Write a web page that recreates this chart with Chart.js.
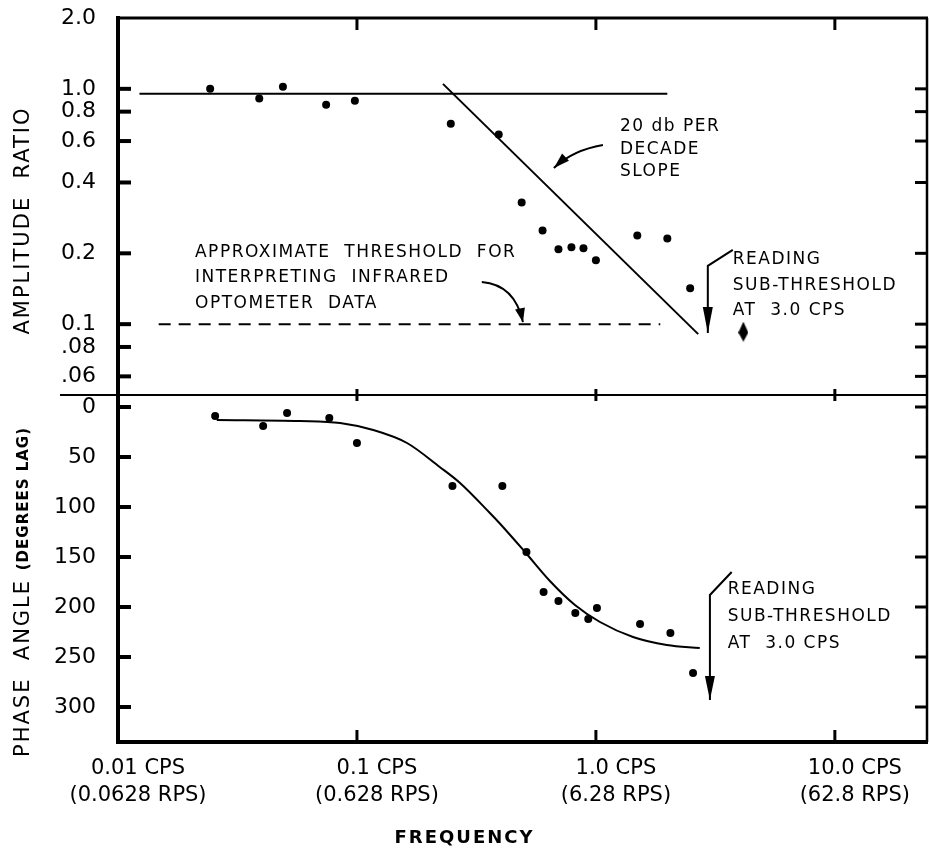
<!DOCTYPE html>
<html>
<head>
<meta charset="utf-8">
<title>Amplitude ratio and phase angle vs frequency</title>
<script src="https://cdn.jsdelivr.net/npm/chart.js@4.4.1/dist/chart.umd.min.js"></script>
<style>
  html, body { margin: 0; padding: 0; background: #fff; }
  #wrap { width: 929px; height: 848px; }
</style>
</head>
<body>
<div id="wrap"><canvas id="bode" width="929" height="848"></canvas></div>
<script>
// Frequency axis (cycles per second)
const xTickValues = [0.01, 0.1, 1, 10];
const xTickCps = ['0.01 CPS', '0.1 CPS', '1.0 CPS', '10.0 CPS'];
const xTickRps = ['(0.0628 RPS)', '(0.628 RPS)', '(6.28 RPS)', '(62.8 RPS)'];

// Amplitude ratio panel
const ampTickValues = [2, 1, 0.8, 0.6, 0.4, 0.2, 0.1, 0.08, 0.06];
const ampTickLabels = ['2.0', '1.0', '0.8', '0.6', '0.4', '0.2', '0.1', '.08', '.06'];
const ampFreq  = [0.0243, 0.039, 0.049, 0.0743, 0.098, 0.247, 0.392, 0.489, 0.598, 0.697, 0.79, 0.887, 1.0, 1.49, 1.99, 2.48];
const ampRatio = [1.0, 0.91, 1.02, 0.855, 0.89, 0.71, 0.64, 0.329, 0.25, 0.208, 0.212, 0.21, 0.187, 0.238, 0.231, 0.142];
const subFreq  = [4.14];
const subRatio = [0.093];
const unityFreq  = [0.0123, 1.99];
const unityRatio = [0.953, 0.953];
const slopeFreq  = [0.229, 2.68];
const slopeRatio = [1.05, 0.0907];
const threshFreq  = [0.0148, 1.86];
const threshRatio = [0.1, 0.1];

// Phase angle panel (degrees lag)
const phaseTickValues = [0, 50, 100, 150, 200, 250, 300];
const phaseFreq = [0.0255, 0.0405, 0.051, 0.0766, 0.1, 0.251, 0.406, 0.512, 0.604, 0.697, 0.82, 0.929, 1.01, 1.53, 2.05, 2.55];
const phaseLag  = [9, 19, 6, 11, 36, 79, 79, 145, 185, 194, 206, 212, 201, 217, 226, 266];
const fitFreq = [0.0259, 0.0577, 0.085, 0.117, 0.162, 0.222, 0.27, 0.36, 0.398, 0.505, 0.642, 0.817, 1.04, 1.43, 1.98, 2.72];
const fitLag  = [13, 14, 16, 23, 36, 60, 76, 106, 117, 145, 174, 198, 215, 230, 238, 241];

// Notes and arrows, anchored in data coordinates
const thresholdNote = ['APPROXIMATE  THRESHOLD  FOR', 'INTERPRETING  INFRARED', 'OPTOMETER  DATA'];
const slopeNote = ['20 db PER', 'DECADE', 'SLOPE'];
const readingNote = ['READING', 'SUB-THRESHOLD', 'AT  3.0 CPS'];

const notes = [
  { axis: 'yAmp', x: 0.021, y: 0.202, lines: thresholdNote, gap: 25.5 },
  { axis: 'yAmp', x: 1.26, y: 0.688, lines: slopeNote, gap: 22.5 },
  { axis: 'yAmp', x: 3.74, y: 0.188, lines: readingNote, gap: 25.5 },
  { axis: 'yPhase', x: 3.56, y: 183, lines: readingNote, gap: 27 }
];

const arrows = [
  { axis: 'yAmp', pts: [[0.333, 0.151], [0.458, 0.147], [0.495, 0.102]], curve: true, head: 14 },
  { axis: 'yAmp', pts: [[1.07, 0.577], [0.801, 0.549], [0.667, 0.461]], curve: true, head: 16 },
  { axis: 'yAmp', pts: [[3.74, 0.207], [2.94, 0.177], [2.94, 0.0917]], curve: false, head: 26 },
  { axis: 'yPhase', pts: [[3.7, 165], [3.0, 188], [3.0, 293]], curve: false, head: 24 }
];

const FONT = "'DejaVu Sans', sans-serif";

function pairs(xs, ys) {
  return xs.map((x, i) => ({ x: x, y: ys[i] }));
}

// tall diamond used for the sub-threshold reading
function diamondMark() {
  const c = document.createElement('canvas');
  c.width = 10; c.height = 20;
  const g = c.getContext('2d');
  g.fillStyle = '#000';
  g.beginPath();
  g.moveTo(5, 0); g.lineTo(10, 11); g.lineTo(5, 20); g.lineTo(0, 11);
  g.closePath();
  g.fill();
  return c;
}

// keep the plot frame where the layout puts it: no extra room for edge labels
function fixVertical(s) {
  s.width = 118;
  s.paddingTop = 0;
  s.paddingBottom = 0;
}

// short tick marks pointing into the plot, plus top/right frame and divider
const frameTicks = {
  id: 'frameTicks',
  afterDatasetsDraw(chart) {
    const { ctx, chartArea: a, scales } = chart;
    const amp = scales.yAmp, ph = scales.yPhase, xs = scales.x;
    const mid = amp.bottom;
    ctx.save();
    ctx.strokeStyle = '#000';
    ctx.lineCap = 'butt';

    ctx.lineWidth = 3;
    ctx.beginPath(); ctx.moveTo(a.left - 2, a.top); ctx.lineTo(a.right + 1, a.top); ctx.stroke();
    ctx.lineWidth = 2.5;
    ctx.beginPath(); ctx.moveTo(a.right, a.top); ctx.lineTo(a.right, a.bottom); ctx.stroke();
    ctx.lineWidth = 2;
    ctx.beginPath(); ctx.moveTo(60, mid); ctx.lineTo(a.right, mid); ctx.stroke();

    [amp, ph].forEach(s => {
      s.ticks.forEach(t => {
        if (t.value >= s.max || t.value <= s.min) return;
        const y = s.getPixelForValue(t.value);
        ctx.lineWidth = 4;
        ctx.beginPath(); ctx.moveTo(a.left, y); ctx.lineTo(a.left + 13, y); ctx.stroke();
        ctx.lineWidth = 3;
        ctx.beginPath(); ctx.moveTo(a.right, y); ctx.lineTo(a.right - 12, y); ctx.stroke();
      });
    });

    xs.ticks.forEach(t => {
      if (t.value <= xs.min) return;
      const x = xs.getPixelForValue(t.value);
      ctx.lineWidth = 3;
      ctx.beginPath(); ctx.moveTo(x, a.top); ctx.lineTo(x, a.top + 12); ctx.stroke();
      ctx.beginPath(); ctx.moveTo(x, mid - 6); ctx.lineTo(x, mid + 6); ctx.stroke();
      ctx.beginPath(); ctx.moveTo(x, a.bottom); ctx.lineTo(x, a.bottom - 12); ctx.stroke();
    });
    ctx.restore();
  }
};

function arrowHead(ctx, fx, fy, tx, ty, len, half) {
  const ang = Math.atan2(ty - fy, tx - fx);
  ctx.beginPath();
  ctx.moveTo(tx, ty);
  ctx.lineTo(tx - len * Math.cos(ang) + half * Math.sin(ang), ty - len * Math.sin(ang) - half * Math.cos(ang));
  ctx.lineTo(tx - len * Math.cos(ang) - half * Math.sin(ang), ty - len * Math.sin(ang) + half * Math.cos(ang));
  ctx.closePath();
  ctx.fill();
}

const notesPlugin = {
  id: 'notes',
  afterDraw(chart) {
    const { ctx, scales } = chart;
    const xs = scales.x;
    ctx.save();
    ctx.fillStyle = '#000';
    ctx.strokeStyle = '#000';
    ctx.letterSpacing = '1.5px';
    ctx.font = '17px ' + FONT;
    ctx.textAlign = 'left';
    ctx.textBaseline = 'middle';
    notes.forEach(n => {
      const x = xs.getPixelForValue(n.x);
      const y = scales[n.axis].getPixelForValue(n.y);
      n.lines.forEach((line, i) => ctx.fillText(line, x, y + i * n.gap));
    });

    ctx.lineWidth = 2;
    arrows.forEach(ar => {
      const s = scales[ar.axis];
      const p = ar.pts.map(q => [xs.getPixelForValue(q[0]), s.getPixelForValue(q[1])]);
      ctx.beginPath();
      ctx.moveTo(p[0][0], p[0][1]);
      if (ar.curve) {
        ctx.quadraticCurveTo(p[1][0], p[1][1], p[2][0], p[2][1]);
      } else {
        ctx.lineTo(p[1][0], p[1][1]);
        ctx.lineTo(p[2][0], p[2][1]);
      }
      ctx.stroke();
      arrowHead(ctx, p[1][0], p[1][1], p[2][0], p[2][1], ar.head, 5);
    });

    // axis titles
    const amp = scales.yAmp, ph = scales.yPhase;
    ctx.letterSpacing = '2px';
    ctx.save();
    ctx.translate(24, (amp.top + amp.bottom) / 2 + 14);
    ctx.rotate(-Math.PI / 2);
    ctx.textAlign = 'center';
    ctx.font = '21px ' + FONT;
    ctx.fillText('AMPLITUDE  RATIO', 0, 0);
    ctx.restore();

    ctx.save();
    ctx.translate(24, ph.bottom + 15);
    ctx.rotate(-Math.PI / 2);
    ctx.textAlign = 'left';
    ctx.font = '21px ' + FONT;
    const head = 'PHASE  ANGLE ';
    ctx.fillText(head, 0, 0);
    const w = ctx.measureText(head).width;
    ctx.letterSpacing = '1px';
    ctx.font = 'bold 15px ' + FONT;
    ctx.fillText('(DEGREES LAG)', w, 0);
    ctx.restore();

    ctx.letterSpacing = '2px';
    ctx.textAlign = 'center';
    ctx.font = 'bold 18px ' + FONT;
    ctx.fillText('FREQUENCY', chart.width / 2, 838);
    ctx.restore();
  }
};

const dot = { pointRadius: 4, pointHoverRadius: 4, pointBackgroundColor: '#000', pointBorderWidth: 0, showLine: false };
const rule = { borderColor: '#000', borderWidth: 2, pointRadius: 0, showLine: true, fill: false };

new Chart(document.getElementById('bode'), {
  type: 'scatter',
  data: {
    datasets: [
      Object.assign({ label: 'Amplitude ratio', data: pairs(ampFreq, ampRatio), yAxisID: 'yAmp' }, dot),
      { label: 'Sub-threshold', data: pairs(subFreq, subRatio), yAxisID: 'yAmp', pointStyle: diamondMark(), showLine: false },
      Object.assign({ label: 'Unity', data: pairs(unityFreq, unityRatio), yAxisID: 'yAmp' }, rule),
      Object.assign({ label: '20 db per decade', data: pairs(slopeFreq, slopeRatio), yAxisID: 'yAmp' }, rule),
      Object.assign({ label: 'Threshold', data: pairs(threshFreq, threshRatio), yAxisID: 'yAmp', borderDash: [12, 8] }, rule),
      Object.assign({ label: 'Phase angle', data: pairs(phaseFreq, phaseLag), yAxisID: 'yPhase' }, dot),
      Object.assign({ label: 'Phase fit', data: pairs(fitFreq, fitLag), yAxisID: 'yPhase', cubicInterpolationMode: 'monotone' }, rule)
    ]
  },
  options: {
    responsive: false,
    animation: false,
    events: [],
    layout: { autoPadding: false, padding: { top: 18, right: 2, left: 0, bottom: 0 } },
    plugins: { legend: { display: false }, tooltip: { enabled: false } },
    scales: {
      x: {
        type: 'logarithmic',
        position: 'bottom',
        min: 0.01,
        max: 24.3,
        afterBuildTicks: s => { s.ticks = xTickValues.map(v => ({ value: v })); },
        afterFit: s => { s.height = 106; s.paddingLeft = 0; s.paddingRight = 0; },
        grid: { display: false, drawTicks: false },
        border: { display: true, color: '#000', width: 4 },
        ticks: {
          autoSkip: false,
          maxRotation: 0,
          padding: 13,
          labelOffset: 20,
          color: '#000',
          font: { family: FONT, size: 21, lineHeight: 1.3 },
          callback: (v) => {
            const i = xTickValues.indexOf(v);
            return i < 0 ? '' : [xTickCps[i], xTickRps[i]];
          }
        }
      },
      yPhase: {
        type: 'linear',
        position: 'left',
        stack: 'panels',
        stackWeight: 347,
        weight: 0,
        reverse: true,
        min: -12,
        max: 335,
        afterBuildTicks: s => { s.ticks = phaseTickValues.map(v => ({ value: v })); },
        afterFit: fixVertical,
        grid: { display: false, drawTicks: false },
        border: { display: true, color: '#000', width: 4 },
        ticks: { autoSkip: false, padding: 22, color: '#000', font: { family: FONT, size: 22 }, callback: v => String(v) }
      },
      yAmp: {
        type: 'logarithmic',
        position: 'left',
        stack: 'panels',
        stackWeight: 377,
        weight: 1,
        min: 0.05,
        max: 2.0,
        afterBuildTicks: s => { s.ticks = ampTickValues.map(v => ({ value: v })); },
        afterFit: fixVertical,
        grid: { display: false, drawTicks: false },
        border: { display: true, color: '#000', width: 4 },
        ticks: {
          autoSkip: false,
          padding: 22,
          color: '#000',
          font: { family: FONT, size: 22 },
          callback: v => {
            const i = ampTickValues.indexOf(v);
            return i < 0 ? '' : ampTickLabels[i];
          }
        }
      }
    }
  },
  plugins: [frameTicks, notesPlugin]
});
</script>
</body>
</html>
